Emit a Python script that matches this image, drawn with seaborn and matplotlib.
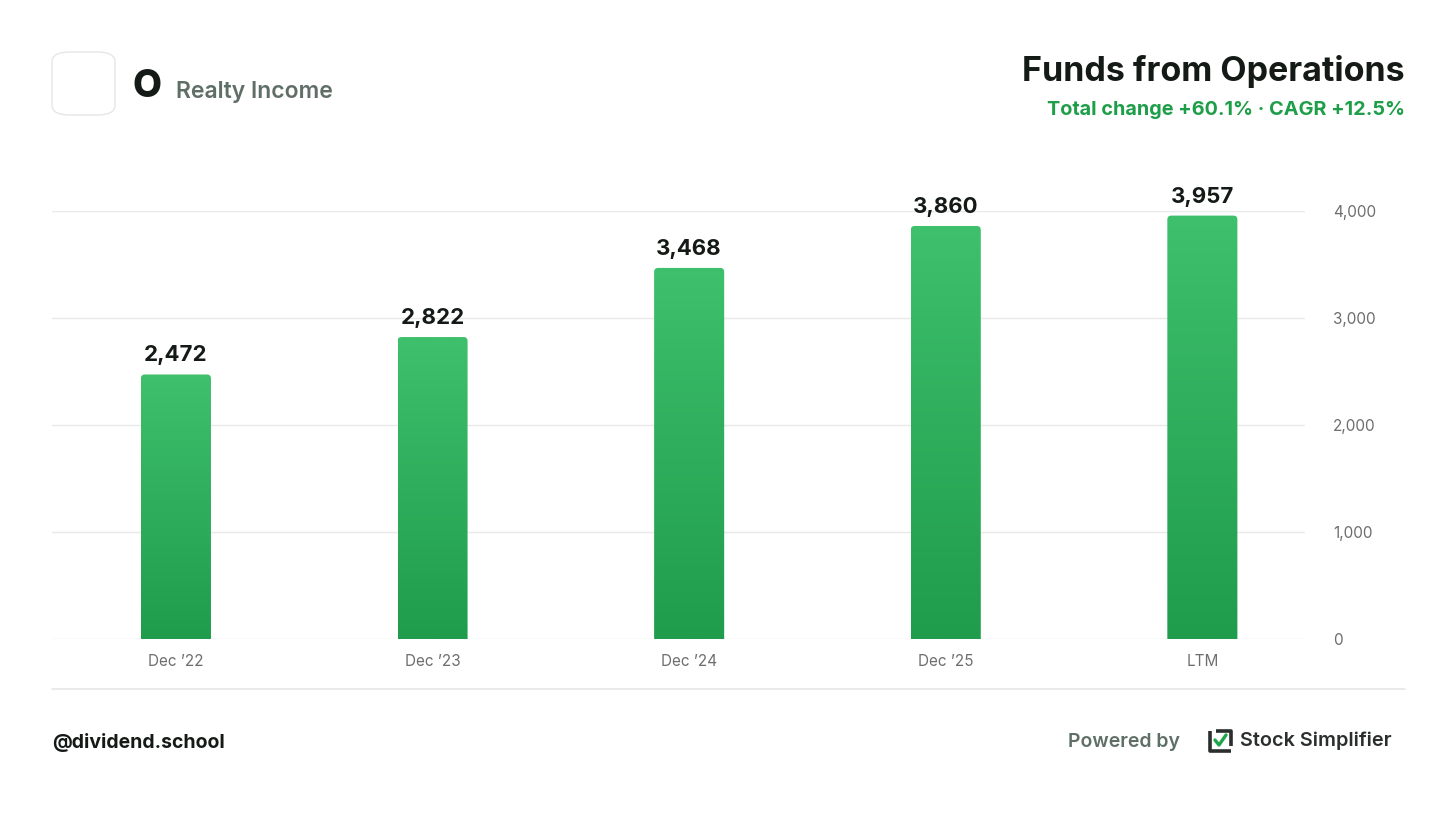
import numpy as np
import pandas as pd
import matplotlib
matplotlib.use("Agg")
import matplotlib.pyplot as plt
import seaborn as sns
from matplotlib.patches import FancyBboxPatch
from matplotlib.transforms import IdentityTransform
from matplotlib.colors import LinearSegmentedColormap
from matplotlib.lines import Line2D

# ---- data ----
categories = ["Dec \u201922", "Dec \u201923", "Dec \u201924", "Dec \u201925", "LTM"]
values = [2472, 2822, 3468, 3860, 3957]
y_ticks = [0, 1000, 2000, 3000, 4000]
y_tick_labels = ["0", "1,000", "2,000", "3,000", "4,000"]

title = "Funds from Operations"
subtitle = "Total change +60.1% \u00b7 CAGR +12.5%"
ticker = "O"
company = "Realty Income"
handle = "@dividend.school"

W, H = 1456, 819
sns.set_theme(style="white")
plt.rcParams["font.family"] = ["Inter", "DejaVu Sans"]

fig = plt.figure(figsize=(W / 100, H / 100), dpi=100)
fig.patch.set_facecolor("white")

def fx(x):
    return x / W

def fy(y):
    return 1 - y / H

ax = fig.add_axes([fx(52), fy(639), (1305 - 52) / W, (639 - 211) / H])
df = pd.DataFrame({"cat": categories, "val": values})
sns.barplot(data=df, x="cat", y="val", order=categories, width=0.273,
            color="#2eae5c", ax=ax, zorder=3)
ax.set_xlim(-0.483, 4.40)
ax.set_ylim(0, 4000)
ax.set_xlabel("")
ax.set_ylabel("")
for s in ax.spines.values():
    s.set_visible(False)
ax.set_yticks(y_ticks)
ax.set_yticklabels(y_tick_labels)
ax.yaxis.tick_right()
ax.yaxis.grid(True, color="#e9e9e9", lw=1.0, zorder=0)
ax.tick_params(axis="y", length=0, pad=20, labelsize=11, labelcolor="#6e6e6e")
ax.tick_params(axis="x", length=0, pad=11, labelsize=11, labelcolor="#6e6e6e")
for t in ax.get_yticklabels() + ax.get_xticklabels():
    t.set_fontfamily(["Inter", "DejaVu Sans"])

# gradient bars
cmap = LinearSegmentedColormap.from_list("g", ["#1f9c4c", "#3ec06c"])
grad = np.linspace(0, 1, 256).reshape(-1, 1)
for p, v in zip(ax.patches, values):
    x0 = p.get_x()
    x1 = x0 + p.get_width()
    p.set_visible(False)
    im = ax.imshow(grad, extent=[x0, x1, 0, v], origin="lower", aspect="auto",
                   cmap=cmap, zorder=3)
    (xd0, yd0) = ax.transData.transform((x0, 0))
    (xd1, yd1) = ax.transData.transform((x1, v))
    clip = FancyBboxPatch((xd0, yd0 - 10), xd1 - xd0, yd1 - yd0 + 10,
                          boxstyle="round,pad=0,rounding_size=4",
                          transform=IdentityTransform())
    im.set_clip_path(clip)
    ax.text((x0 + x1) / 2, v + 85, f"{v:,}", ha="center", va="bottom",
            fontsize=16, fontweight="bold", color="#141a16")
ax.set_xlim(-0.483, 4.40)
ax.set_ylim(0, 4000)

# header
fig.patches.append(FancyBboxPatch((fx(52), fy(115)), 63 / W, 63 / H,
                                  boxstyle="round,pad=0,rounding_size=0.012",
                                  transform=fig.transFigure, facecolor="white",
                                  edgecolor="#e6e6e6", lw=1.0))
fig.text(fx(132), fy(87), ticker, fontsize=27, fontweight="heavy", color="#141a16",
         ha="left", va="center")
fig.text(fx(176), fy(92), company, fontsize=16.5, fontweight="semibold", color="#5f6e66",
         ha="left", va="center")
fig.text(fx(1405), fy(72), title, fontsize=24.5, fontweight="bold", color="#141a16",
         ha="right", va="center")
fig.text(fx(1405), fy(110), subtitle, fontsize=14.3, fontweight="bold", color="#1e9e48",
         ha="right", va="center")

# separator
fig.add_artist(Line2D([fx(52), fx(1405)], [fy(689), fy(689)], color="#e6e6e6", lw=1.2))

# footer
fig.text(fx(52), fy(742), handle, fontsize=14, fontweight="bold", color="#141a16",
         ha="left", va="center")
fig.text(fx(1180), fy(742), "Powered by", fontsize=14, fontweight="semibold",
         color="#5f6e66", ha="right", va="center")
# icon
ic = "#2a2e2c"
fig.add_artist(Line2D([fx(1210), fx(1210), fx(1231)], [fy(731), fy(751), fy(751)],
                      color=ic, lw=2.6, solid_capstyle="butt"))
fig.add_artist(Line2D([fx(1216), fx(1231), fx(1231)], [fy(731), fy(731), fy(746)],
                      color=ic, lw=2.6, solid_capstyle="butt"))
fig.add_artist(Line2D([fx(1215), fx(1219), fx(1226)], [fy(740), fy(745), fy(735)],
                      color="#1fa64a", lw=2.4, solid_capstyle="round"))
fig.text(fx(1240), fy(741), "Stock Simplifier", fontsize=14.3, fontweight="semibold",
         color="#2a2e2c", ha="left", va="center")

fig.savefig("out.png", dpi=100, facecolor="white")
